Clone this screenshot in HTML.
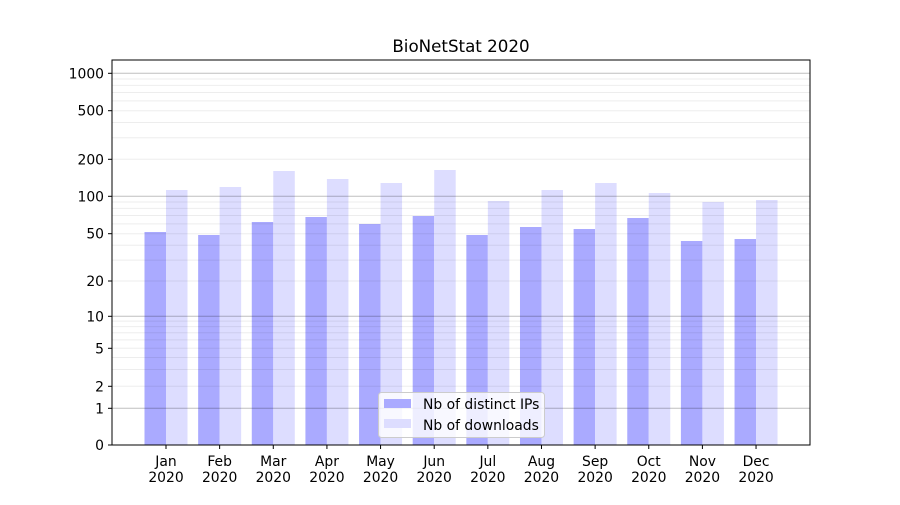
<!DOCTYPE html>
<html><head><meta charset="utf-8"><style>
body{margin:0;background:#fff}
svg text{font-family:"DejaVu Sans","Liberation Sans",sans-serif;font-size:13.9px;fill:#000}
</style></head><body>
<svg id="s" width="900" height="500" xmlns="http://www.w3.org/2000/svg"></svg>
<script>
const vs=[0,1,2,5,10,20,50,100,200,500,1000];
const ps=[445,408.3,386.3,348.3,316.3,281,233.7,196.3,159.3,110.7,73.3];
function Y(v){
 if(v>=1000){return 73.3-(Math.log10(v)-3)*121.5;}
 for(let i=0;i<vs.length-1;i++){
  if(v<=vs[i+1]){
   if(i==0) return ps[0]+(ps[1]-ps[0])*v;
   const t=(Math.log(v)-Math.log(vs[i]))/(Math.log(vs[i+1])-Math.log(vs[i]));
   return ps[i]+(ps[i+1]-ps[i])*t;
  }
 }
}
let h='';
const months=['Jan','Feb','Mar','Apr','May','Jun','Jul','Aug','Sep','Oct','Nov','Dec'];
const tops=[[232,190],[235,187],[222,171],[217,179],[224,183],[216,170],[235,201],[227,190],[229,183],[218,193],[241,202],[239,200]];
for(let i=0;i<12;i++){
 const c=166+i*53.64;
 h+=`<rect x="${c-21.5}" y="${tops[i][0]}" width="21.5" height="${445-tops[i][0]}" fill="#aaaaff"/>`;
 h+=`<rect x="${c}" y="${tops[i][1]}" width="21.5" height="${445-tops[i][1]}" fill="#ddddff"/>`;
 h+=`<line x1="${c}" y1="445" x2="${c}" y2="449" stroke="#000"/>`;
 h+=`<text x="${c}" y="466" text-anchor="middle">${months[i]}</text><text x="${c}" y="482" text-anchor="middle">2020</text>`;
}
for(let d=1;d<=1000;d*=10){for(let k=2;k<=9;k++){const v=d*k;if(v>1200)break;const y=Y(v);if(y<60)continue;
 h+=`<line x1="112" x2="810" y1="${y}" y2="${y}" stroke="#000" stroke-opacity="0.07"/>`;}}
for(const v of [1,10,100,1000]){const y=Y(v);h+=`<line x1="112" x2="810" y1="${y}" y2="${y}" stroke="#000" stroke-opacity="0.25"/>`;}
for(let i=0;i<vs.length;i++){h+=`<line x1="108" x2="112" y1="${ps[i]}" y2="${ps[i]}" stroke="#000"/><text x="104" y="${ps[i]+5}" text-anchor="end">${vs[i]}</text>`;}
h+=`<rect x="112" y="60" width="698" height="385" fill="none" stroke="#000"/>`;
h+=`<text x="461" y="52" text-anchor="middle" style="font-size:16.7px">BioNetStat 2020</text>`;
h+=`<rect x="378.5" y="392.5" width="166" height="45" rx="3" fill="#fff" fill-opacity="0.8" stroke="#ccc"/>`;
h+=`<rect x="384" y="399" width="27" height="9" fill="#aaaaff"/><text x="423" y="409">Nb of distinct IPs</text>`;
h+=`<rect x="384" y="419" width="27" height="9" fill="#ddddff"/><text x="423" y="430">Nb of downloads</text>`;
document.getElementById('s').innerHTML=h;
</script>
</body></html>
